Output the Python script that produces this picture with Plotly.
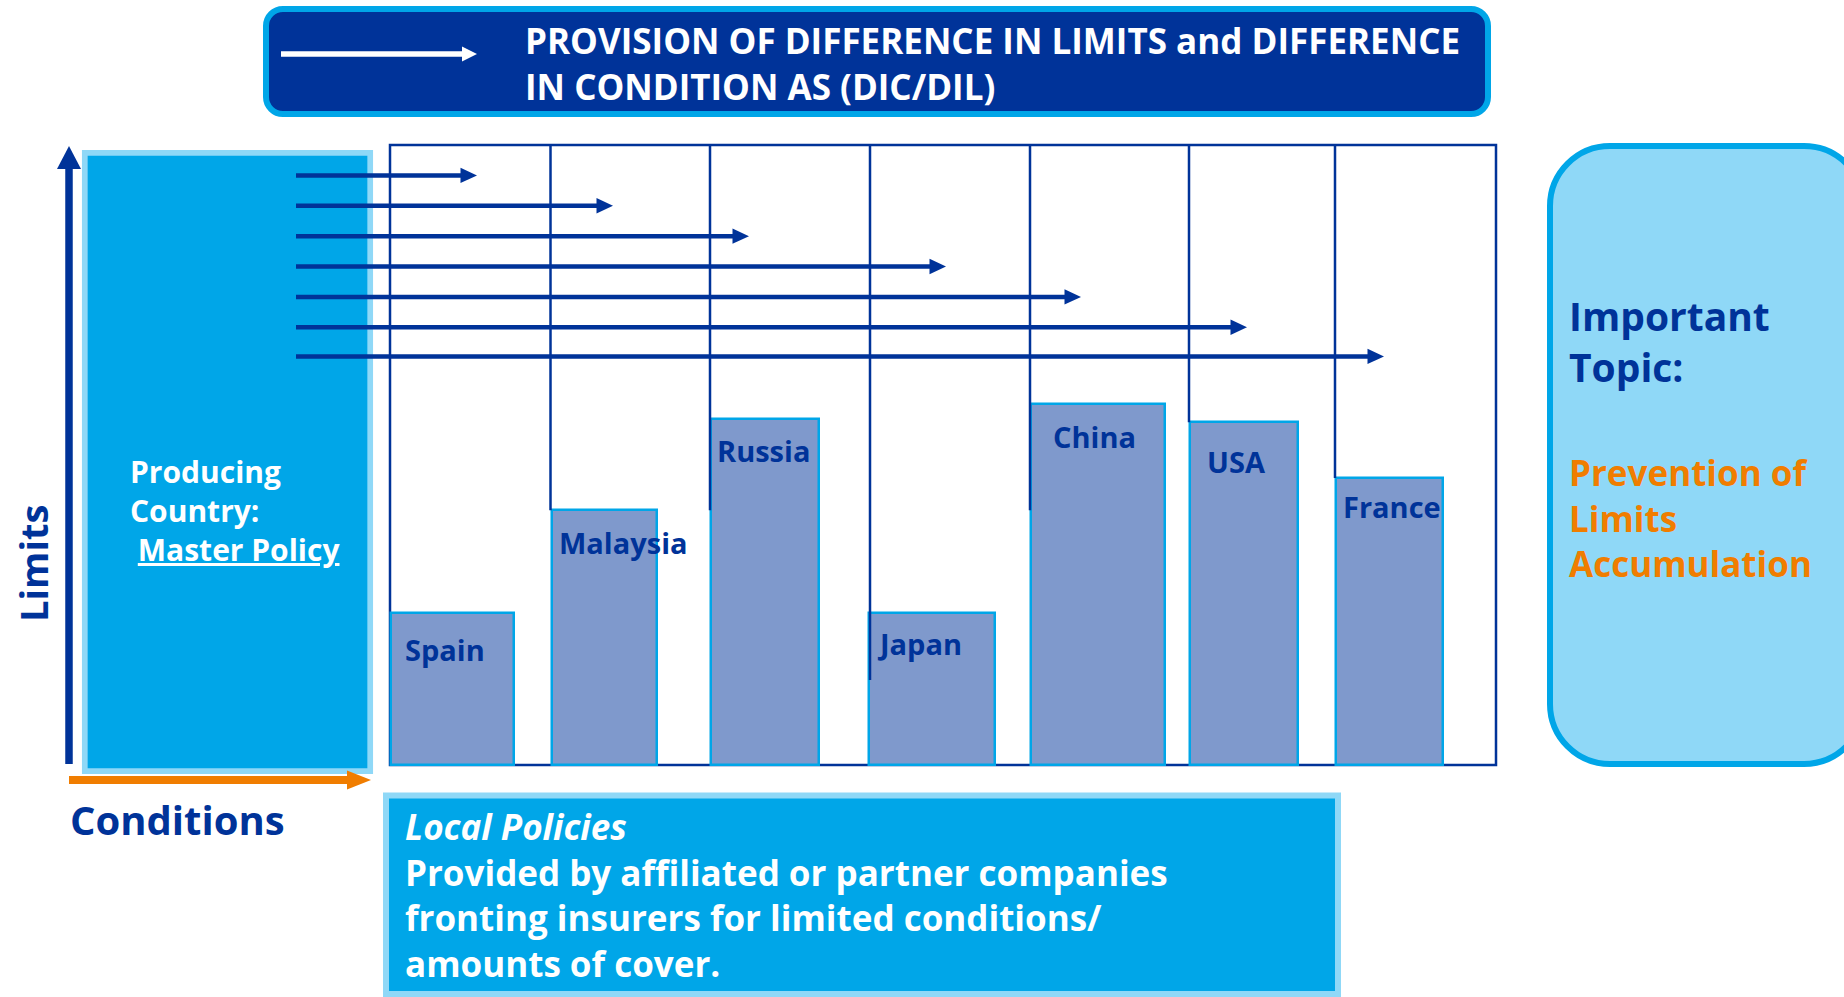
import plotly.graph_objects as go

# ---------------- data ----------------
countries = ["Spain", "Malaysia", "Russia", "Japan", "China", "USA", "France"]
# local policy limit of each country (share of the master-policy limit scale, %)
local_limits = [24.5, 41.1, 55.8, 24.5, 58.2, 55.3, 46.3]
# DIC/DIL arrows: how far each arrow reaches (frame px from left) and its limit level (%)
dic_reach = [87, 223, 359, 556, 691, 857, 994]
dic_level = [95.1, 90.2, 85.3, 80.4, 75.5, 70.6, 65.9]

title_text = "PROVISION OF DIFFERENCE IN LIMITS and DIFFERENCE<br>IN CONDITION AS (DIC/DIL)"
master_text = "Producing<br>Country:<br>&nbsp;<u>Master Policy</u>"
topic_text = "Important<br>Topic:"
topic_sub = "Prevention of<br>Limits<br>Accumulation"
local_text = ("<i>Local Policies</i><br>Provided by affiliated or partner companies<br>"
              "fronting insurers for limited conditions/<br>amounts of cover.")

# ---------------- layout / style ----------------
W, H = 1844, 997
FX0, FY0, FX1, FY1 = 390, 145, 1496, 765          # frame of the bar area (px)
slot_left = [0, 160.5, 320, 478, 640, 799, 945]   # bar outer left (frame px)
slot_width = [125, 107.5, 110, 128.5, 136.5, 110, 109]
divider_x = [160.5, 320, 480, 640, 799, 945]
divider_end = [41.1, 41.1, 13.7, 41.1, 55.3, 46.3]
label_dx = [14, 7, 6, 8, 22, 17, 7]
label_dy = [36, 32, 31.5, 30.5, 32, 39, 28.5]
arrow_start = -94

NAVY = "#003399"
CYAN = "#00a6e8"
LIGHT = "#8fd8f7"
BARFILL = "#7f99cc"
ORANGE = "#f07d00"
FONT = "Open Sans"
BW = 2.5

# the bar axes span the whole page, 1 unit = 1 px horizontally, frame height = 100 units
unit_y = (FY1 - FY0) / 100.0
x2_range = [-FX0, W - FX0]
y2_range = [-(H - FY1) / unit_y, 100 + FY0 / unit_y]

fig = go.Figure()

centers = [l + w / 2 for l, w in zip(slot_left, slot_width)]
widths = [w - BW for w in slot_width]
fig.add_trace(go.Bar(
    x=centers, y=local_limits, width=widths, xaxis="x2", yaxis="y2",
    marker=dict(color=BARFILL, line=dict(color=CYAN, width=BW)),
    hoverinfo="skip", showlegend=False,
))


def rrect(x0, y0, x1, y1, r):
    k = 0.5523 * r
    return (f"M{x0 + r},{y0} L{x1 - r},{y0} C{x1 - r + k},{y0} {x1},{y0 + r - k} {x1},{y0 + r} "
            f"L{x1},{y1 - r} C{x1},{y1 - r + k} {x1 - r + k},{y1} {x1 - r},{y1} "
            f"L{x0 + r},{y1} C{x0 + r - k},{y1} {x0},{y1 - r + k} {x0},{y1 - r} "
            f"L{x0},{y0 + r} C{x0},{y0 + r - k} {x0 + r - k},{y0} {x0 + r},{y0} Z")


shapes = []
# title box
shapes.append(dict(type="path", path=rrect(266, 9, 1488, 114, 17), xref="x", yref="y",
                   fillcolor=NAVY, line=dict(color=CYAN, width=6), layer="below"))
# white arrow in title
shapes.append(dict(type="line", x0=281, x1=463, y0=54, y1=54, xref="x", yref="y",
                   line=dict(color="white", width=5.5), layer="above"))
shapes.append(dict(type="path", path="M462,46.5 L477,54 L462,61.5 Z", xref="x", yref="y",
                   fillcolor="white", line=dict(width=0), layer="above"))
# master policy box
shapes.append(dict(type="rect", x0=84.8, x1=370.2, y0=152.8, y1=771.2, xref="x", yref="y",
                   fillcolor=CYAN, line=dict(color=LIGHT, width=5.7), layer="below"))
# limits (vertical) arrow
shapes.append(dict(type="line", x0=69, x1=69, y0=764, y1=166, xref="x", yref="y",
                   line=dict(color=NAVY, width=7.5), layer="above"))
shapes.append(dict(type="path", path="M57,169 L69,146 L81,169 Z", xref="x", yref="y",
                   fillcolor=NAVY, line=dict(width=0), layer="above"))
# conditions (horizontal) arrow
shapes.append(dict(type="line", x0=69, x1=350, y0=780, y1=780, xref="x", yref="y",
                   line=dict(color=ORANGE, width=8), layer="above"))
shapes.append(dict(type="path", path="M347,770.5 L371,780 L347,789.5 Z", xref="x", yref="y",
                   fillcolor=ORANGE, line=dict(width=0), layer="above"))
# right rounded box
shapes.append(dict(type="path", path=rrect(1550, 146, 1864, 764, 60), xref="x", yref="y",
                   fillcolor=LIGHT, line=dict(color=CYAN, width=6), layer="below"))
# bottom box
shapes.append(dict(type="rect", x0=386, x1=1338, y0=795.5, y1=994, xref="x", yref="y",
                   fillcolor=CYAN, line=dict(color=LIGHT, width=6), layer="below"))
# bar frame
shapes.append(dict(type="rect", x0=0, x1=FX1 - FX0, y0=0, y1=100, xref="x2", yref="y2",
                   line=dict(color=NAVY, width=2.5), fillcolor="rgba(0,0,0,0)", layer="below"))
for dx, de in zip(divider_x, divider_end):
    shapes.append(dict(type="line", x0=dx, x1=dx, y0=100, y1=de, xref="x2", yref="y2",
                       line=dict(color=NAVY, width=2.5), layer="above"))
# DIC / DIL arrows
for reach, lvl in zip(dic_reach, dic_level):
    shapes.append(dict(type="line", x0=arrow_start, x1=reach - 10, y0=lvl, y1=lvl,
                       xref="x2", yref="y2", line=dict(color=NAVY, width=4.5), layer="above"))
    shapes.append(dict(type="path", path="M-16.5,-7.7 L0,0 L-16.5,7.7 Z",
                       xsizemode="pixel", ysizemode="pixel", xanchor=reach, yanchor=lvl,
                       xref="x2", yref="y2", fillcolor=NAVY, line=dict(width=0), layer="above"))

annotations = []


def txt(text, x, y, size, color, xanchor="left", angle=0, xref="x", yref="y", yshift=0):
    annotations.append(dict(
        text=text, x=x, y=y, xref=xref, yref=yref, showarrow=False, xanchor=xanchor,
        yanchor="middle", align="left", textangle=angle, yshift=yshift, borderpad=0,
        font=dict(family=FONT, size=size, color=color, weight="bold"),
    ))


txt(title_text, 524, 63.7, 35, "white")
txt(master_text, 129, 510, 30, "white")
txt("Conditions", 69, 819, 40, NAVY)
txt("Limits", 33, 564, 38, NAVY, xanchor="center", angle=-90)
txt(topic_text, 1568, 341, 39, NAVY)
txt(topic_sub, 1568, 518, 35, ORANGE)
txt(local_text, 404, 895, 35, "white")
for c, v, l, dx, dy in zip(countries, local_limits, slot_left, label_dx, label_dy):
    txt(c, l + dx, v, 29, NAVY, xref="x2", yref="y2", yshift=-dy)

fig.update_layout(
    width=W, height=H, margin=dict(l=0, r=0, t=0, b=0),
    paper_bgcolor="white", plot_bgcolor="rgba(0,0,0,0)",
    xaxis=dict(range=[0, W], domain=[0, 1], visible=False, fixedrange=True),
    yaxis=dict(range=[H, 0], domain=[0, 1], visible=False, fixedrange=True),
    xaxis2=dict(range=x2_range, domain=[0, 1], anchor="y2", visible=False, fixedrange=True),
    yaxis2=dict(range=y2_range, domain=[0, 1], anchor="x2", visible=False, fixedrange=True),
    shapes=shapes, annotations=annotations, showlegend=False, bargap=0,
)

fig.write_html("out.html", config={"displayModeBar": False})
